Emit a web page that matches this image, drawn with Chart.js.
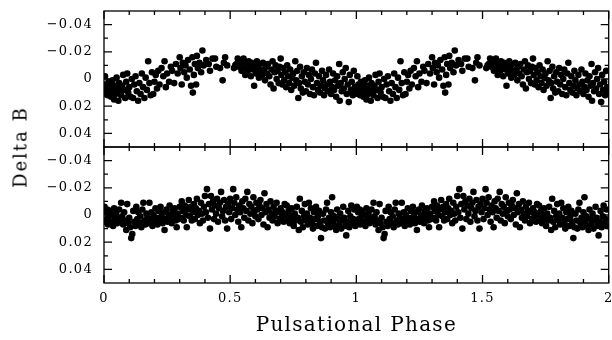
<!DOCTYPE html>
<html>
<head>
<meta charset="utf-8">
<script src="https://cdn.jsdelivr.net/npm/chart.js@4/dist/chart.umd.min.js"></script>
<style>
  html, body { margin: 0; padding: 0; background: #fff; }
  #wrap { position: relative; width: 612px; height: 340px; }
  #ytitle {
    position: absolute; left: 20px; top: 147px;
    transform: translate(-50%, -50%) rotate(-90deg);
    font-family: "DejaVu Serif", serif; font-size: 18px; letter-spacing: 2px;
    white-space: nowrap; color: #000;
  }
</style>
</head>
<body>
<div id="wrap">
  <canvas id="lightCurve" width="612" height="340"></canvas>
  <div id="ytitle">Delta B</div>
</div>
<script>
// one pulsation cycle [phase, delta B], plotted twice (phase 0-1 and 1-2)
const topCycle = [
  [0.002,0.008],[0.004,-0.002],[0.006,0.011],[0.008,0.004],[0.010,0.009],[0.013,0.006],[0.015,0.012],[0.018,0.002],
  [0.020,0.007],[0.023,0.010],[0.025,0.004],[0.028,0.013],[0.031,0.006],[0.034,0.001],[0.036,0.009],[0.040,0.015],
  [0.043,0.005],[0.046,0.011],[0.050,-0.001],[0.053,0.007],[0.057,0.016],[0.060,0.003],[0.064,0.009],[0.068,0.012],
  [0.072,0.005],[0.076,-0.003],[0.080,0.008],[0.084,0.014],[0.088,0.002],[0.092,-0.004],[0.096,0.010],
  [0.100,0.006],[0.105,0.013],[0.110,0.000],[0.115,0.014],[0.120,0.004],[0.125,-0.002],[0.130,0.009],[0.135,0.016],
  [0.140,0.003],[0.145,0.011],[0.150,-0.004],[0.155,0.006],[0.160,0.014],[0.165,-0.001],[0.170,0.008],[0.175,-0.013],
  [0.180,0.003],[0.185,0.012],[0.190,-0.005],[0.195,0.011],[0.200,0.002],[0.205,-0.003],[0.210,0.007],[0.215,-0.006],
  [0.220,0.004],[0.228,-0.008],[0.235,-0.002],[0.240,-0.013],[0.245,0.006],[0.250,-0.004],[0.258,0.002],[0.265,-0.009],
  [0.270,-0.006],[0.278,0.003],[0.285,-0.011],[0.292,-0.004],
  [0.300,-0.016],[0.303,-0.008],[0.308,0.004],[0.312,-0.012],[0.318,-0.005],[0.323,-0.010],[0.328,-0.001],[0.333,-0.014],
  [0.340,-0.007],[0.345,0.005],[0.350,-0.016],[0.352,0.010],[0.356,-0.003],[0.360,-0.011],[0.365,0.004],[0.368,-0.017],
  [0.372,-0.008],[0.378,-0.012],[0.385,-0.005],[0.390,-0.021],[0.395,-0.010],[0.405,-0.014],[0.415,-0.011],[0.420,-0.006],
  [0.430,-0.015],[0.440,-0.015],[0.445,-0.009],[0.460,-0.008],[0.470,0.001],[0.475,-0.012],[0.480,-0.016],[0.488,-0.010],
  [0.515,-0.008],[0.520,-0.010],[0.525,-0.011],[0.530,-0.015],[0.535,-0.009],[0.540,-0.013],[0.545,-0.006],[0.550,-0.012],
  [0.553,-0.015],[0.557,-0.008],[0.560,-0.003],[0.565,-0.011],[0.570,-0.006],[0.573,-0.013],[0.578,-0.009],[0.582,-0.002],
  [0.585,-0.012],[0.590,-0.007],[0.595,0.005],[0.598,-0.010],[0.602,-0.004],[0.606,-0.013],[0.610,-0.008],[0.614,-0.001],
  [0.618,-0.011],[0.622,-0.006],[0.626,-0.003],[0.630,-0.012],[0.634,-0.007],[0.638,0.001],[0.642,-0.009],[0.646,-0.004],
  [0.650,-0.011],[0.655,-0.002],[0.660,0.004],[0.664,-0.007],[0.668,-0.013],[0.672,0.007],[0.676,-0.005],[0.680,-0.010],
  [0.684,0.000],[0.688,-0.006],[0.692,0.003],[0.696,-0.009],[0.700,-0.015],
  [0.703,-0.003],[0.707,0.004],[0.710,-0.008],[0.714,0.001],[0.718,-0.005],[0.722,0.006],[0.726,-0.010],[0.730,-0.002],
  [0.734,0.003],[0.738,-0.007],[0.742,0.008],[0.746,-0.001],[0.750,-0.004],[0.754,0.005],[0.758,-0.013],[0.762,0.001],
  [0.766,-0.006],[0.770,0.014],[0.773,0.003],[0.777,-0.009],[0.780,0.007],[0.784,-0.002],[0.788,0.010],[0.792,-0.005],
  [0.796,0.002],[0.800,0.009],[0.804,-0.008],[0.808,0.004],[0.812,-0.003],[0.816,0.011],[0.820,0.000],[0.824,-0.007],
  [0.828,0.006],[0.832,0.012],[0.836,-0.004],[0.840,-0.012],[0.844,0.003],[0.848,0.008],[0.852,-0.002],[0.856,0.010],
  [0.860,0.005],[0.864,-0.006],[0.868,0.001],[0.872,0.012],[0.876,0.007],[0.880,-0.003],[0.884,0.004],[0.888,0.009],
  [0.892,-0.007],[0.896,0.002],[0.900,0.011],[0.904,0.006],[0.908,-0.004],[0.912,0.008],[0.916,0.001],[0.920,0.013],
  [0.924,-0.002],[0.928,0.005],[0.932,-0.011],[0.934,0.016],[0.938,0.003],[0.942,0.009],[0.946,-0.005],[0.950,0.007],
  [0.954,0.000],[0.958,-0.008],[0.962,0.011],[0.966,0.004],[0.970,0.017],[0.974,-0.003],[0.978,0.008],[0.982,0.002],
  [0.986,0.012],[0.990,-0.006],[0.994,0.006],[0.998,0.010]
];

const bottomCycle = [
  [0.002,-0.006],[0.004,0.005],[0.007,-0.002],[0.010,0.003],[0.013,-0.004],[0.016,0.007],[0.020,0.001],[0.024,-0.003],
  [0.028,0.005],[0.032,0.000],[0.036,0.008],[0.040,-0.005],[0.044,0.003],[0.048,-0.001],[0.052,0.006],[0.056,0.002],
  [0.060,-0.004],[0.064,0.004],[0.068,-0.009],[0.072,0.001],[0.076,0.007],[0.080,-0.002],[0.084,0.004],[0.088,0.011],
  [0.092,-0.008],[0.096,0.006],[0.100,0.002],[0.104,0.009],[0.108,0.017],[0.112,0.014],[0.116,-0.003],[0.120,0.005],
  [0.124,0.008],[0.128,-0.006],[0.132,0.003],[0.136,-0.002],[0.140,0.006],[0.144,0.001],[0.148,0.009],[0.152,-0.004],
  [0.156,-0.009],[0.160,0.004],[0.164,0.007],[0.168,-0.001],[0.172,0.002],[0.176,0.006],[0.180,-0.009],[0.184,0.003],
  [0.188,-0.002],[0.192,0.008],[0.196,0.000],[0.200,0.005],[0.204,-0.005],[0.208,0.002],[0.212,0.007],[0.216,-0.003],
  [0.220,0.004],[0.224,-0.006],[0.228,0.001],[0.232,0.006],[0.236,-0.002],[0.240,0.011],[0.244,0.003],[0.248,-0.004],
  [0.252,0.005],[0.256,0.000],[0.260,-0.007],[0.264,0.002],[0.268,0.006],[0.272,-0.003],[0.276,0.001],[0.280,-0.005],
  [0.284,0.004],[0.288,0.009],[0.292,-0.001],[0.296,0.003],
  [0.300,-0.006],[0.304,0.002],[0.308,-0.010],[0.312,-0.003],[0.316,0.004],[0.320,-0.007],[0.324,0.000],[0.328,0.009],
  [0.332,-0.004],[0.336,-0.011],[0.340,0.001],[0.344,-0.006],[0.348,0.004],[0.352,-0.002],[0.356,-0.008],[0.360,0.003],
  [0.364,-0.005],[0.368,-0.012],[0.372,0.000],[0.376,-0.003],[0.380,0.006],[0.384,-0.009],[0.388,-0.001],[0.392,0.004],
  [0.396,-0.006],[0.400,-0.014],[0.404,-0.002],[0.408,-0.019],[0.412,0.002],[0.416,-0.008],[0.420,0.010],[0.424,-0.014],
  [0.428,-0.004],[0.432,-0.010],[0.436,0.003],[0.440,-0.007],[0.444,-0.001],[0.448,-0.012],[0.452,0.005],[0.456,-0.005],
  [0.460,-0.009],[0.464,-0.017],[0.468,0.001],[0.472,-0.003],[0.476,-0.011],[0.480,0.004],[0.484,-0.006],[0.488,0.010],
  [0.492,-0.008],[0.496,-0.002],[0.500,-0.012],[0.504,0.003],[0.508,-0.005],[0.512,-0.019],[0.516,-0.009],[0.520,0.000],
  [0.524,-0.013],[0.528,-0.004],[0.532,0.005],[0.536,-0.007],[0.540,-0.002],[0.544,0.009],[0.548,-0.010],[0.552,-0.005],
  [0.556,0.002],[0.560,-0.012],[0.564,-0.003],[0.568,-0.017],[0.572,0.004],[0.576,-0.008],[0.580,-0.001],[0.584,-0.006],
  [0.588,0.006],[0.592,-0.013],[0.596,-0.003],[0.600,0.001],[0.604,-0.009],[0.608,-0.004],[0.612,0.003],[0.616,-0.007],
  [0.620,-0.011],[0.624,0.000],[0.628,-0.005],[0.632,0.007],[0.636,-0.016],[0.640,-0.002],[0.644,-0.008],[0.648,0.009],
  [0.652,-0.004],[0.656,0.002],[0.660,-0.010],[0.664,-0.001],[0.668,0.004],[0.672,-0.006],[0.676,0.001],[0.680,-0.003],
  [0.684,-0.009],[0.688,0.006],[0.692,-0.002],[0.696,0.003],
  [0.700,-0.005],[0.704,0.002],[0.708,-0.002],[0.712,0.005],[0.716,-0.008],[0.720,0.000],[0.724,-0.007],[0.728,0.004],
  [0.732,-0.003],[0.736,0.006],[0.740,0.001],[0.744,-0.005],[0.748,0.003],[0.752,0.008],[0.756,-0.001],[0.760,0.004],
  [0.764,-0.006],[0.768,0.002],[0.772,0.011],[0.776,-0.012],[0.780,0.005],[0.784,-0.003],[0.788,0.009],[0.792,0.001],
  [0.796,-0.008],[0.800,0.004],[0.804,-0.001],[0.808,0.007],[0.812,-0.009],[0.816,0.002],[0.820,-0.005],[0.824,0.006],
  [0.828,0.010],[0.832,-0.002],[0.836,0.003],[0.840,-0.006],[0.844,0.008],[0.848,0.001],[0.852,-0.003],[0.856,0.005],
  [0.860,0.017],[0.864,0.009],[0.868,-0.001],[0.872,0.004],[0.876,0.010],[0.880,-0.004],[0.884,-0.009],[0.888,0.006],
  [0.892,0.002],[0.896,0.009],[0.900,-0.002],[0.904,-0.013],[0.908,0.005],[0.912,0.001],[0.916,0.008],[0.920,0.011],
  [0.924,-0.004],[0.928,0.003],[0.932,0.007],[0.936,-0.001],[0.940,0.010],[0.944,0.004],[0.948,-0.006],[0.952,0.002],
  [0.956,0.008],[0.960,0.015],[0.964,0.005],[0.968,-0.003],[0.972,0.009],[0.976,0.001],[0.980,-0.007],[0.984,0.006],
  [0.988,0.003],[0.992,-0.004],[0.996,0.008]
];

const cycles = [0, 1];
const phaseLabels = [0, 0.5, 1, 1.5, 2];
const phaseMinor = [0, 0.1, 0.2, 0.3, 0.4, 0.5, 0.6, 0.7, 0.8, 0.9, 1, 1.1, 1.2, 1.3, 1.4, 1.5, 1.6, 1.7, 1.8, 1.9, 2];
const deltaLabels = [-0.04, -0.02, 0, 0.02, 0.04];
const deltaMinor = [-0.04, -0.03, -0.02, -0.01, 0, 0.01, 0.02, 0.03, 0.04];

const FONT = '"DejaVu Serif", serif';

function foldPoints(cycle) {
  const pts = [];
  cycles.forEach(c => cycle.forEach(([p, d]) => pts.push({ x: p + c, y: d })));
  return pts;
}

function fmtDelta(v) {
  if (Math.abs(v) < 1e-9) return '0';
  return (v < 0 ? '\u2212' : '') + Math.abs(v).toFixed(2);
}

function deltaAxis() {
  return {
    type: 'linear',
    position: 'left',
    stack: 'delta',
    stackWeight: 1,
    min: -0.05,
    max: 0.05,
    reverse: true,
    grid: { display: false, drawTicks: false },
    border: { display: false },
    afterBuildTicks: s => { s.ticks = deltaLabels.map(v => ({ value: v })); },
    afterFit: s => { s.width = 104; s.paddingTop = 0; s.paddingBottom = 0; },
    ticks: {
      color: '#000',
      padding: 11,
      font: { family: FONT, size: 13 },
      callback: v => fmtDelta(v)
    }
  };
}

// frame with inward major/minor ticks on every side of each panel
const frameTicks = {
  id: 'frameTicks',
  beforeDraw(chart) {
    chart.ctx.letterSpacing = '1.3px';
  },
  afterDatasetsDraw(chart) {
    const ctx = chart.ctx;
    const x = chart.scales.x;
    ctx.save();
    ctx.strokeStyle = '#000';
    ctx.lineWidth = 1.3;
    ['yTop', 'yBot'].forEach(id => {
      const y = chart.scales[id];
      const l = x.left, r = x.right, t = y.top, b = y.bottom;
      ctx.strokeRect(l, t, r - l, b - t);
      ctx.beginPath();
      phaseMinor.forEach(v => {
        const px = x.getPixelForValue(v);
        const len = phaseLabels.some(m => Math.abs(m - v) < 1e-6) ? 8 : 4;
        ctx.moveTo(px, t); ctx.lineTo(px, t + len);
        ctx.moveTo(px, b); ctx.lineTo(px, b - len);
      });
      deltaMinor.forEach(v => {
        const py = y.getPixelForValue(v);
        const len = deltaLabels.some(m => Math.abs(m - v) < 1e-6) ? 8 : 4;
        ctx.moveTo(l, py); ctx.lineTo(l + len, py);
        ctx.moveTo(r, py); ctx.lineTo(r - len, py);
      });
      ctx.stroke();
    });
    ctx.restore();
  }
};

const pointStyle = { backgroundColor: '#000', borderWidth: 0, pointRadius: 3.3, pointHoverRadius: 3.3 };

new Chart(document.getElementById('lightCurve').getContext('2d'), {
  type: 'scatter',
  data: {
    datasets: [
      Object.assign({ label: 'top', data: foldPoints(topCycle), yAxisID: 'yTop' }, pointStyle),
      Object.assign({ label: 'bottom', data: foldPoints(bottomCycle), yAxisID: 'yBot' }, pointStyle)
    ]
  },
  options: {
    responsive: false,
    animation: false,
    events: [],
    layout: { padding: { top: 11, right: 1, left: 0, bottom: 0 } },
    plugins: { legend: { display: false }, tooltip: { enabled: false } },
    scales: {
      x: {
        type: 'linear',
        position: 'bottom',
        min: 0,
        max: 2,
        grid: { display: false, drawTicks: false },
        border: { display: false },
        afterBuildTicks: s => { s.ticks = phaseLabels.map(v => ({ value: v })); },
        afterFit: s => { s.height = 57; s.paddingLeft = 0; s.paddingRight = 0; },
        ticks: {
          color: '#000',
          padding: 8,
          maxRotation: 0,
          font: { family: FONT, size: 13 },
          callback: v => String(v)
        },
        title: {
          display: true,
          text: 'Pulsational Phase',
          color: '#000',
          padding: { top: 0, bottom: 2 },
          font: { family: FONT, size: 20 }
        }
      },
      // stacked panels are laid out bottom-up, so the lower panel comes first
      yBot: deltaAxis(),
      yTop: deltaAxis()
    }
  },
  plugins: [frameTicks]
});
</script>
</body>
</html>
